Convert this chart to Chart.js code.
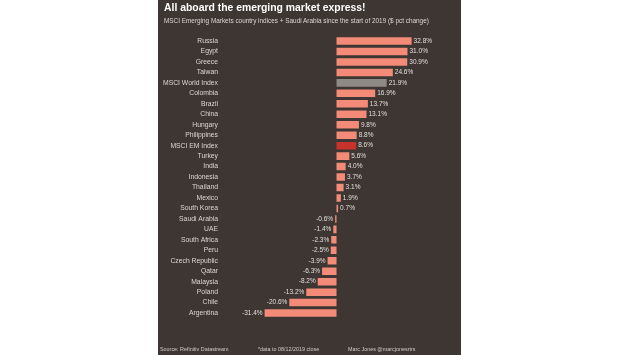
<!DOCTYPE html>
<html><head><meta charset="utf-8">
<script src="https://cdn.jsdelivr.net/npm/chart.js@4/dist/chart.umd.min.js"></script>
<style>
html,body{margin:0;padding:0;background:#fff;width:620px;height:355px;overflow:hidden;font-family:"Liberation Sans",Arial,sans-serif;}
#panel{position:absolute;left:158px;top:0;width:303px;height:355px;background:#3d3633;}
#c{position:absolute;left:0;top:0;}
.t{position:absolute;white-space:nowrap;color:#fff;}
#title{left:164px;top:2px;font-size:10.4px;font-weight:bold;}
#sub{left:164px;top:17px;font-size:6.4px;color:#ddd8d4;}
.f{top:346px;font-size:5.4px;color:#d0cbc7;}
</style></head>
<body>
<div id="panel"></div>
<canvas id="c" width="620" height="355"></canvas>
<div class="t" id="title">All aboard the emerging market express!</div>
<div class="t" id="sub">MSCI Emerging Markets country indices + Saudi Arabia since the start of 2019 ($ pct change)</div>
<div class="t f" style="left:160px">Source: Refinitiv Datastream</div>
<div class="t f" style="left:258px">*data to 08/12/2019 close</div>
<div class="t f" style="left:348px">Marc Jones @marcjonesrtrs</div>
<script>
const categories = ["Russia","Egypt","Greece","Taiwan","MSCI World Index","Colombia","Brazil","China","Hungary","Philippines","MSCI EM Index","Turkey","India","Indonesia","Thailand","Mexico","South Korea","Saudi Arabia","UAE","South Africa","Peru","Czech Republic","Qatar","Malaysia","Poland","Chile","Argentina"];
const pctChange = [32.8,31.0,30.9,24.6,21.9,16.9,13.7,13.1,9.8,8.8,8.6,5.6,4.0,3.7,3.1,1.9,0.7,-0.6,-1.4,-2.3,-2.5,-3.9,-6.3,-8.2,-13.2,-20.6,-31.4];
const highlight = {"MSCI World Index":"#8e8a86","MSCI EM Index":"#c8322c"};
const colors = categories.map(c => highlight[c] || "#f38b78");

const valueLabels = {
  id:'valueLabels',
  afterDatasetsDraw(chart){
    const ctx = chart.ctx;
    const meta = chart.getDatasetMeta(0);
    ctx.save();
    ctx.font = '6.5px "Liberation Sans", Arial, sans-serif';
    ctx.fillStyle = '#e2ddd9';
    ctx.textBaseline = 'middle';
    meta.data.forEach((bar,i)=>{
      const v = pctChange[i];
      const txt = v.toFixed(1) + '%';
      if (v >= 0){ ctx.textAlign='left'; ctx.fillText(txt, bar.x + 2, bar.y); }
      else { ctx.textAlign='right'; ctx.fillText(txt, bar.x - 2, bar.y); }
    });
    ctx.restore();
  }
};

new Chart(document.getElementById('c'), {
  type:'bar',
  data:{ labels:categories, datasets:[{ data:pctChange, backgroundColor:colors, borderWidth:0, barPercentage:0.72, categoryPercentage:1 }]},
  options:{
    indexAxis:'y', responsive:false, animation:false, devicePixelRatio:1,
    layout:{ padding:{ left:0, right:169, top:35.8, bottom:36.7 } },
    plugins:{ legend:{display:false}, tooltip:{enabled:false} },
    scales:{
      x:{ display:false, min:-50, max:50 },
      y:{
        afterFit(s){ s.width = 222; },
        grid:{ display:false, drawTicks:false }, border:{display:false},
        ticks:{ color:'#ddd8d4', padding:4, font:{ size:6.8, family:'"Liberation Sans", Arial, sans-serif' }, autoSkip:false }
      }
    }
  },
  plugins:[valueLabels]
});
</script>
</body></html>
